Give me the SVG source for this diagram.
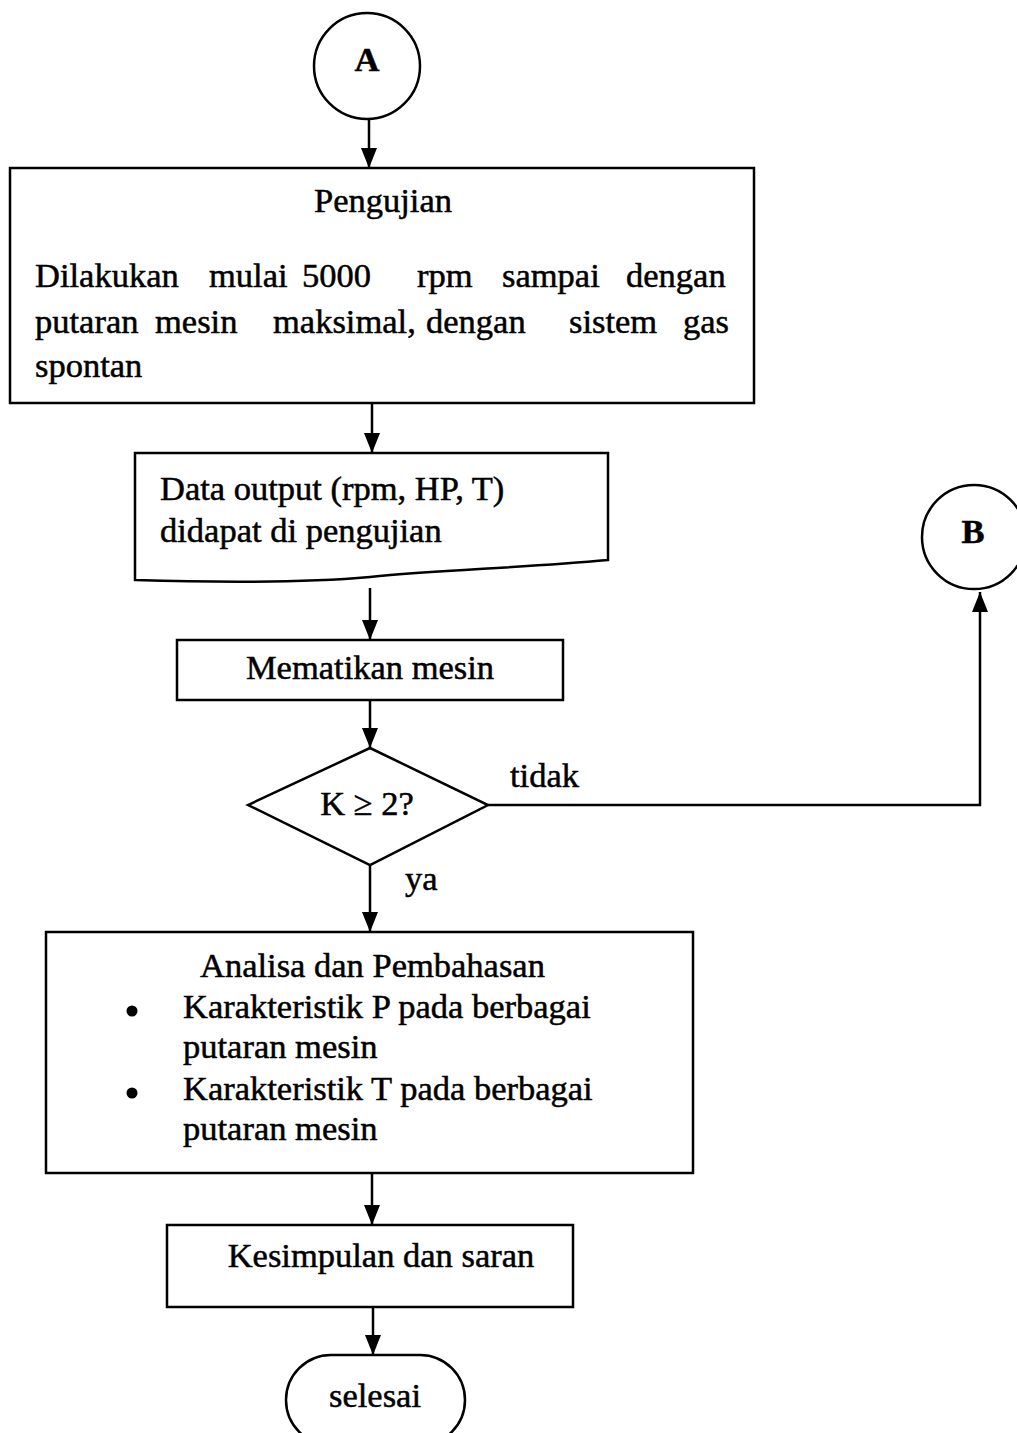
<svg xmlns="http://www.w3.org/2000/svg" width="1017" height="1433" viewBox="0 0 1017 1433">
<defs>
<marker id="ah" markerWidth="20" markerHeight="16" refX="20" refY="8" orient="auto" markerUnits="userSpaceOnUse" viewBox="0 0 20 16">
<path d="M0,0 L20,8 L0,16 Z" fill="#000"/>
</marker>
<style>
.s{fill:#fff;stroke:#000;stroke-width:2.5}
.t{font-family:"Liberation Serif","Times New Roman",serif;font-size:34.5px;fill:#000;stroke:#000;stroke-width:0.5}
.b{font-weight:bold}
.c{stroke:#000;stroke-width:2.5;fill:none}
</style>
</defs>
<rect width="1017" height="1433" fill="#fff"/>
<g id="connectors">
<line class="c" x1="369" y1="119" x2="369" y2="168" marker-end="url(#ah)"/>
<line class="c" x1="372" y1="403" x2="372" y2="453" marker-end="url(#ah)"/>
<line class="c" x1="370" y1="588" x2="370" y2="640" marker-end="url(#ah)"/>
<line class="c" x1="370" y1="700" x2="370" y2="748" marker-end="url(#ah)"/>
<polyline class="c" points="488,805 980,805 980,592" marker-end="url(#ah)"/>
<line class="c" x1="370" y1="865" x2="370" y2="932" marker-end="url(#ah)"/>
<line class="c" x1="372" y1="1173" x2="372" y2="1225" marker-end="url(#ah)"/>
<line class="c" x1="373" y1="1307" x2="373" y2="1355" marker-end="url(#ah)"/>
<text class="t" x="510" y="787">tidak</text>
<text class="t" x="405" y="890">ya</text>
</g>
<g id="nodeA">
<circle class="s" cx="367" cy="66" r="53"/>
<text class="t b" x="367" y="71" text-anchor="middle">A</text>
</g>
<g id="nodePengujian">
<rect class="s" x="10" y="168" width="744" height="235"/>
<text class="t" x="383" y="212" text-anchor="middle">Pengujian</text>
<text class="t" y="287"><tspan x="35">Dilakukan</tspan><tspan x="209">mulai</tspan><tspan x="302">5000</tspan><tspan x="417">rpm</tspan><tspan x="502">sampai</tspan><tspan x="626">dengan</tspan></text>
<text class="t" y="333"><tspan x="35">putaran</tspan><tspan x="155">mesin</tspan><tspan x="273">maksimal,</tspan><tspan x="426">dengan</tspan><tspan x="569">sistem</tspan><tspan x="683">gas</tspan></text>
<text class="t" x="35" y="377">spontan</text>
</g>
<g id="nodeData">
<path class="s" d="M135,453 L608,453 L608,560 C520,568 440,570 370,577 C290,584 200,582 135,580 Z"/>
<text class="t" x="160" y="500">Data output (rpm, HP, T)</text>
<text class="t" x="160" y="542">didapat di pengujian</text>
</g>
<g id="nodeMematikan">
<rect class="s" x="177" y="640" width="386" height="60"/>
<text class="t" x="370" y="679" text-anchor="middle">Mematikan mesin</text>
</g>
<g id="nodeDecision">
<polygon class="s" points="370,748 488,805 370,865 248,805"/>
<text class="t" x="367" y="815" text-anchor="middle">K ≥ 2?</text>
</g>
<g id="nodeB">
<circle class="s" cx="974" cy="537" r="52"/>
<text class="t b" x="973" y="543" text-anchor="middle">B</text>
</g>
<g id="nodeAnalisa">
<rect class="s" x="46" y="932" width="647" height="241"/>
<text class="t" x="200" y="977">Analisa dan Pembahasan</text>
<circle cx="132" cy="1011" r="5.5" fill="#000"/>
<text class="t" x="183" y="1018">Karakteristik P pada berbagai</text>
<text class="t" x="183" y="1058">putaran mesin</text>
<circle cx="132" cy="1093" r="5.5" fill="#000"/>
<text class="t" x="183" y="1100">Karakteristik T pada berbagai</text>
<text class="t" x="183" y="1140">putaran mesin</text>
</g>
<g id="nodeKesimpulan">
<rect class="s" x="167" y="1225" width="406" height="82"/>
<text class="t" x="381" y="1267" text-anchor="middle">Kesimpulan dan saran</text>
</g>
<g id="nodeSelesai">
<rect class="s" x="286" y="1355" width="179" height="90" rx="45" ry="45"/>
<text class="t" x="375" y="1407" text-anchor="middle">selesai</text>
</g>
</svg>
